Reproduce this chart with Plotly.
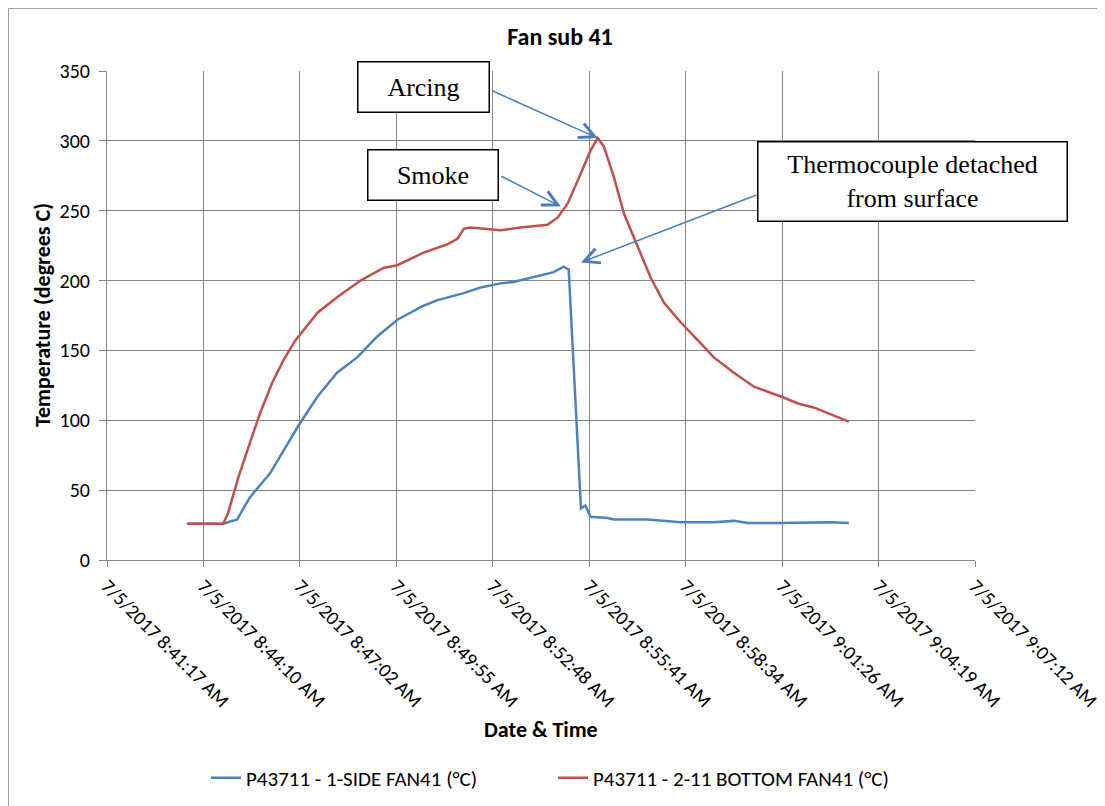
import plotly.graph_objects as go

DAY = "2017-07-05 "

# Red series: P43711 - 2-11 BOTTOM FAN41 (°C)
red_times = ["08:43:40", "08:44:45", "08:44:54", "08:45:12", "08:45:33", "08:45:51",
             "08:46:13", "08:46:33", "08:46:54", "08:47:34", "08:48:09", "08:48:51",
             "08:49:32", "08:49:57", "08:50:44", "08:51:27", "08:51:45", "08:51:56",
             "08:52:08", "08:53:02", "08:53:38", "08:54:26", "08:54:44", "08:55:02",
             "08:55:26", "08:55:43", "08:55:56", "08:56:07", "08:56:25", "08:56:43",
             "08:57:08", "08:57:31", "08:57:55", "08:58:25", "08:58:56", "08:59:24",
             "09:00:00", "09:00:36", "09:01:24", "09:01:55", "09:02:24", "09:02:54",
             "09:03:26"]
red_values = [26, 26, 34, 59, 84, 105,
              127, 143, 157, 177, 188, 200,
              209, 211, 220, 226, 230, 237,
              238, 236, 238, 240, 245, 255,
              277, 293, 302, 296, 274, 248,
              224, 202, 184, 170, 157, 145,
              134, 124, 117, 112, 109, 104,
              99]

# Blue series: P43711 - 1-SIDE FAN41 (°C)
blue_times = ["08:43:40", "08:44:45", "08:45:10", "08:45:33", "08:46:09", "08:46:58",
              "08:47:34", "08:48:09", "08:48:45", "08:49:21", "08:49:57", "08:50:44",
              "08:51:09", "08:51:56", "08:52:26", "08:53:02", "08:53:25", "08:53:56",
              "08:54:37", "08:54:55", "08:55:04", "08:55:26", "08:55:34", "08:55:43",
              "08:56:14", "08:56:25", "08:57:26", "08:58:25", "08:59:24", "09:00:00",
              "09:00:25", "09:01:24", "09:02:54", "09:03:26"]
blue_values = [26, 26, 29, 45, 62, 95,
               117, 134, 145, 160, 172, 182,
               186, 191, 195, 198, 199, 202,
               206, 210, 208, 37, 39, 31,
               30, 29, 29, 27, 27, 28,
               26.5, 26.5, 27, 26.5]

tick_vals = ["08:41:16.8", "08:44:09.6", "08:47:02.4", "08:49:55.2", "08:52:48",
             "08:55:40.8", "08:58:33.6", "09:01:26.4", "09:04:19.2", "09:07:12"]
tick_labels = ["7/5/2017 8:41:17 AM", "7/5/2017 8:44:10 AM", "7/5/2017 8:47:02 AM",
               "7/5/2017 8:49:55 AM", "7/5/2017 8:52:48 AM", "7/5/2017 8:55:41 AM",
               "7/5/2017 8:58:34 AM", "7/5/2017 9:01:26 AM", "7/5/2017 9:04:19 AM",
               "7/5/2017 9:07:12 AM"]
y_ticks = [0, 50, 100, 150, 200, 250, 300, 350]

SANS = "Carlito, Calibri, Lato, sans-serif"
SERIF = "Liberation Serif, Times New Roman, serif"
GRID = "#868686"

OFF = 8  # page body margin
W, H = 1105 - OFF, 806 - OFF
L, R, T, B = 107 - OFF, 975 - OFF, 71 - OFF, 560 - OFF
pw, ph = R - L, B - T


def px(x):  # reference-image x pixel -> paper
    return (x - OFF - L) / pw


def py(y):  # reference-image y pixel -> paper
    return (B - (y - OFF)) / ph


fig = go.Figure()
fig.add_trace(go.Scatter(x=[DAY + t for t in blue_times], y=blue_values, mode="lines",
                         name="P43711 - 1-SIDE FAN41 (°C)",
                         line=dict(color="#4F81BD", width=2.5)))
fig.add_trace(go.Scatter(x=[DAY + t for t in red_times], y=red_values, mode="lines",
                         name="P43711 - 2-11 BOTTOM FAN41 (°C)",
                         line=dict(color="#C0504D", width=2.5)))

fig.update_layout(
    width=W, height=H,
    margin=dict(l=L, r=W - R, t=T, b=H - B, autoexpand=False),
    paper_bgcolor="white", plot_bgcolor="white",
    font=dict(family=SANS, size=19, color="#000000"),
    title=dict(text="<b>Fan sub 41</b>", x=(560 - OFF) / W, xanchor="center",
               y=1 - (37 - OFF) / H, yanchor="middle", font=dict(size=24)),
    showlegend=True,
    legend=dict(orientation="h", x=px(206), xanchor="left", y=py(778), yanchor="middle",
                font=dict(size=21), itemwidth=30, traceorder="normal",
                entrywidth=302, entrywidthmode="pixels"),
    xaxis=dict(type="date", range=[DAY + tick_vals[0], DAY + tick_vals[-1]],
               tickmode="array", tickvals=[DAY + t for t in tick_vals], ticktext=tick_labels,
               tickangle=45, showgrid=True, gridcolor=GRID, gridwidth=1,
               showline=True, linecolor=GRID, linewidth=1,
               ticks="outside", ticklen=6, tickcolor=GRID, automargin=False,
               tickfont=dict(size=19.5), zeroline=False),
    yaxis=dict(range=[0, 350], tickmode="array", tickvals=y_ticks,
               showgrid=True, gridcolor=GRID, gridwidth=1,
               showline=True, linecolor=GRID, linewidth=1,
               ticks="outside", ticklen=7, tickcolor=GRID, automargin=False,
               ticklabelstandoff=5,
               tickfont=dict(size=20), zeroline=False),
)

# axis titles
fig.add_annotation(x=px(42), y=py(315), xref="paper", yref="paper",
                   text="<b>Temperature (degrees C)</b>", textangle=-90, showarrow=False,
                   xanchor="center", yanchor="middle", font=dict(size=22))
fig.add_annotation(x=px(541), y=py(729), xref="paper", yref="paper",
                   text="<b>Date & Time</b>", showarrow=False,
                   xanchor="center", yanchor="middle", font=dict(size=22))

# outer chart border (only top/left edges are within the picture)
fig.add_shape(type="rect", xref="paper", yref="paper",
              x0=px(8.5), x1=px(1130), y0=py(830), y1=py(8.5),
              line=dict(color="#a0a0a0", width=1), fillcolor="rgba(0,0,0,0)", layer="below")

ARROW = "#4A7EBB"
# arrows (from callout box edge to point of interest)
fig.add_annotation(x=DAY + "08:55:56", y=302, xref="x", yref="y", text="",
                   showarrow=True, ax=-107, ay=-48, arrowhead=5, arrowsize=2,
                   arrowwidth=1.5, arrowcolor=ARROW)
fig.add_annotation(x=DAY + "08:54:50", y=253, xref="x", yref="y", text="",
                   showarrow=True, ax=-61, ay=-31, arrowhead=5, arrowsize=2,
                   arrowwidth=1.5, arrowcolor=ARROW)
fig.add_annotation(x=DAY + "08:55:26", y=213, xref="x", yref="y", text="",
                   showarrow=True, ax=177, ay=-68, arrowhead=5, arrowsize=2,
                   arrowwidth=1.5, arrowcolor=ARROW)


# callout boxes
def box(cx, cy, w, h, text):
    fig.add_annotation(x=px(cx), y=py(cy), xref="paper", yref="paper", text=text,
                       showarrow=False, xanchor="center", yanchor="middle",
                       width=w, height=h, align="center", valign="middle",
                       bordercolor="#000000", borderwidth=1.5, borderpad=0,
                       bgcolor="white", font=dict(family=SERIF, size=26, color="#000000"))


box(423.5, 87, 130, 49, "Arcing")
box(433, 175, 129, 49, "Smoke")
box(912.5, 181.5, 308, 78, "Thermocouple detached<br>from surface")

fig.write_html("out.html")
